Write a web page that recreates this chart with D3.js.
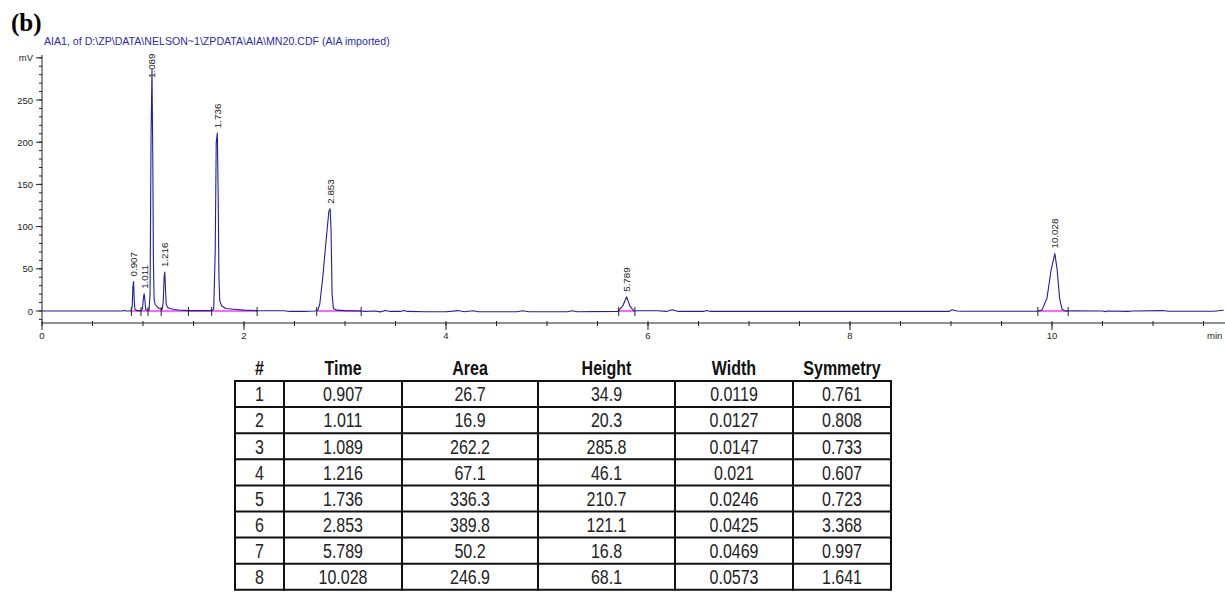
<!DOCTYPE html>
<html>
<head>
<meta charset="utf-8">
<script src="https://cdn.jsdelivr.net/npm/d3@7"></script>
<style>
  html, body { margin: 0; padding: 0; background: #fff; }
  svg { display: block; }
</style>
</head>
<body>
<svg id="chart" width="1225" height="600"></svg>
<script>
// ---------- data ----------
const titleText = "AIA1, of D:\\ZP\\DATA\\NELSON~1\\ZPDATA\\AIA\\MN20.CDF (AIA imported)";
const panelLabel = "(b)";

// chromatogram trace (min, mV)
const traceTime = [0, 0.5, 0.8, 0.815, 0.83, 0.88, 0.893, 0.9, 0.907, 0.913, 0.92, 0.94,
  0.98, 0.995, 1.004, 1.011, 1.018, 1.026, 1.045, 1.06, 1.07, 1.08, 1.089, 1.097, 1.103, 1.11,
  1.12, 1.14, 1.16, 1.18, 1.19, 1.2, 1.209, 1.216, 1.223, 1.23, 1.245, 1.27, 1.3, 1.35, 1.45,
  1.68, 1.70, 1.715, 1.725, 1.736, 1.745, 1.752, 1.76, 1.78, 1.82, 1.9, 2.0, 2.13,
  2.4, 2.45, 2.6, 2.70, 2.73, 2.75, 2.78, 2.81, 2.84, 2.853, 2.862, 2.872, 2.885, 2.92, 3.0, 3.16,
  3.2, 3.3, 3.35, 3.4, 3.45, 3.55, 3.58, 3.62, 3.8, 4.0, 4.12, 4.18, 4.27, 4.32, 4.7, 4.76, 4.82,
  5.2, 5.25, 5.3, 5.7, 5.75, 5.789, 5.82, 5.86, 5.9, 6.1, 6.18, 6.24, 6.3, 6.55, 6.58, 6.62,
  7.0, 8.0, 8.98, 9.01, 9.06, 9.1, 9.85, 9.9, 9.95, 9.99, 10.028, 10.05, 10.075, 10.1, 10.13,
  10.2, 10.5, 10.52, 10.55, 10.75, 10.8, 11.1, 11.15, 11.6, 11.7];
const traceMV = [0, 0, 0, 0.8, 0, 0, 5, 28, 34.9, 12, 2, 0.5,
  0.5, 3, 15, 20.3, 14, 2, 1, 1, 20, 210, 285.8, 180, 60, 14,
  8, 5, 3, 2, 2, 10, 40, 46.1, 25, 8, 4, 3, 2, 1.2, 0.5,
  0.5, 2, 70, 200, 210.7, 130, 40, 12, 6, 3, 2, 1, 0.5,
  0.3, -0.5, -0.5, 0, 1, 8, 40, 80, 118, 121.1, 95, 20, 3, 1, 0.5, 0,
  -0.5, 0, -1, 0.5, -0.5, -0.5, 0.5, -0.5, -0.8, -0.8, 0.5, -0.8, 0.3, -0.8, -0.8, 0.3, -0.8,
  -0.8, 0.3, -0.8, -0.5, 6, 16.8, 6, 0, 0.3, 0.3, -0.5, 1.5, -0.5, -0.5, 0.6, -0.5,
  -0.5, -0.5, -0.5, 1.5, 0, -0.3, -0.3, 1, 15, 48, 68.1, 50, 15, 2, 0,
  0.3, 0, -0.7, 0, -0.5, 0, 0.5, -0.3, -0.3, 0.8];

// integration baselines and event markers (min)
const baselineStart = [0.885, 2.72, 5.71, 9.86];
const baselineEnd   = [2.13, 3.16, 5.87, 10.16];
const eventMarks = [0.885, 0.98, 1.05, 1.18, 1.45, 1.68, 2.13, 2.72, 3.16, 5.71, 5.87, 9.86, 10.16];

// axis ticks
const xMajorTicks = [0, 2, 4, 6, 8, 10];
const yMajorTicks = [0, 50, 100, 150, 200, 250, 300];
const yTickLabels = ["0", "50", "100", "150", "200", "250", "mV"];

// peak table
const tableHeaders = ["#", "Time", "Area", "Height", "Width", "Symmetry"];
const peakNum = [1, 2, 3, 4, 5, 6, 7, 8];
const peakTime = [0.907, 1.011, 1.089, 1.216, 1.736, 2.853, 5.789, 10.028];
const peakArea = [26.7, 16.9, 262.2, 67.1, 336.3, 389.8, 50.2, 246.9];
const peakHeight = [34.9, 20.3, 285.8, 46.1, 210.7, 121.1, 16.8, 68.1];
const peakWidth = [0.0119, 0.0127, 0.0147, 0.021, 0.0246, 0.0425, 0.0469, 0.0573];
const peakSymmetry = [0.761, 0.808, 0.733, 0.607, 0.723, 3.368, 0.997, 1.641];

// ---------- drawing ----------
const svg = d3.select("#chart");
const AX = "Liberation Sans, Arial, Helvetica, sans-serif";

const x = d3.scaleLinear().domain([0, 10]).range([42, 1052]);
const y = d3.scaleLinear().domain([0, 250]).range([311, 100]);
const xMax = x.invert(1225);
const yBottom = y.invert(323);
const yTop = y.invert(55);

// panel label and title
svg.append("text").attr("x", 11).attr("y", 31)
  .attr("font-family", "Liberation Serif, Times New Roman, serif")
  .attr("font-weight", "bold").attr("font-size", 25).attr("fill", "#000")
  .text(panelLabel);
svg.append("text").attr("x", 44).attr("y", 45)
  .attr("font-family", AX).attr("font-size", 10.6).attr("fill", "#2a2ab4")
  .text(titleText);

// x axis
const gx = svg.append("g").attr("transform", "translate(0,323)");
gx.append("line").attr("x1", x(0)).attr("x2", 1225).attr("stroke", "#222").attr("stroke-width", 1);
const xMinor = d3.range(0, xMax, 0.5);
gx.selectAll(".xminor").data(xMinor).join("line")
  .attr("x1", d => x(d)).attr("x2", d => x(d)).attr("y1", -2).attr("y2", 3)
  .attr("stroke", "#222").attr("stroke-width", 1);
gx.selectAll(".xmajor").data(xMajorTicks).join("line")
  .attr("x1", d => x(d)).attr("x2", d => x(d)).attr("y1", 0).attr("y2", 7)
  .attr("stroke", "#222").attr("stroke-width", 1);
gx.selectAll(".xlab").data(xMajorTicks).join("text")
  .attr("x", d => x(d)).attr("y", 16).attr("text-anchor", "middle")
  .attr("font-family", AX).attr("font-size", 9.5).attr("fill", "#222")
  .text(d => d);
gx.append("text").attr("x", 1207).attr("y", 16)
  .attr("font-family", AX).attr("font-size", 9.5).attr("fill", "#222").text("min");

// y axis
const gy = svg.append("g").attr("transform", "translate(42,0)");
gy.append("line").attr("y1", y(yBottom)).attr("y2", y(yTop)).attr("stroke", "#222");
const yMinor = d3.range(-10, 301, 10);
gy.selectAll(".yminor").data(yMinor).join("line")
  .attr("y1", d => y(d)).attr("y2", d => y(d)).attr("x1", -3).attr("x2", 0)
  .attr("stroke", "#222");
gy.selectAll(".ymajor").data(yMajorTicks).join("line")
  .attr("y1", d => y(d)).attr("y2", d => y(d)).attr("x1", -6).attr("x2", 0)
  .attr("stroke", "#222");
gy.selectAll(".ylab").data(yMajorTicks).join("text")
  .attr("x", -9).attr("y", d => y(d) + 3.5).attr("text-anchor", "end")
  .attr("font-family", AX).attr("font-size", 9.5).attr("fill", "#222")
  .text((d, i) => yTickLabels[i]);

// baselines (magenta)
svg.selectAll(".base").data(baselineStart).join("line")
  .attr("x1", d => x(d)).attr("x2", (d, i) => x(baselineEnd[i]))
  .attr("y1", y(0)).attr("y2", y(0))
  .attr("stroke", "#ff33ff").attr("stroke-width", 1.5);

// trace
const pts = traceTime.map((t, i) => [t, traceMV[i]]);
svg.append("path").datum(pts)
  .attr("d", d3.line().x(d => x(d[0])).y(d => y(d[1])))
  .attr("fill", "none").attr("stroke", "#1f1fa8").attr("stroke-width", 1.1)
  .attr("stroke-linejoin", "round");

// event markers
svg.selectAll(".ev").data(eventMarks).join("line")
  .attr("x1", d => x(d)).attr("x2", d => x(d))
  .attr("y1", y(0) - 4).attr("y2", y(0) + 5)
  .attr("stroke", "#222").attr("stroke-width", 1);

// peak labels
const labG = svg.append("g");
peakTime.forEach((t, i) => {
  const label = t.toFixed(3);
  const len = label.length * 5.2;
  let start = y(peakHeight[i]) - 5;
  if (start - len < 52) start = 52 + len;
  labG.append("text")
    .attr("transform", `translate(${x(t) + 3.5},${start}) rotate(-90)`)
    .attr("font-family", AX).attr("font-size", 9.8).attr("fill", "#222")
    .text(label);
});

// ---------- table ----------
const colEdges = [235, 284, 402, 538, 675, 793, 891];
const tableTop = 381, rowH = 26.1;
const cols = [peakNum, peakTime, peakArea, peakHeight, peakWidth, peakSymmetry];
const tg = svg.append("g");
const narrow = 0.8;

tableHeaders.forEach((h, c) => {
  const cx = (colEdges[c] + colEdges[c + 1]) / 2;
  tg.append("text")
    .attr("transform", `translate(${cx},375) scale(${narrow},1)`)
    .attr("text-anchor", "middle")
    .attr("font-family", AX).attr("font-weight", "bold").attr("font-size", 20)
    .attr("fill", "#111").text(h);
});

const nRows = peakNum.length;
const tableBottom = tableTop + rowH * nRows;
d3.range(nRows + 1).forEach(r => {
  tg.append("line").attr("x1", colEdges[0]).attr("x2", colEdges[colEdges.length - 1])
    .attr("y1", tableTop + r * rowH).attr("y2", tableTop + r * rowH)
    .attr("stroke", "#111").attr("stroke-width", 2);
});
colEdges.forEach(cx => {
  tg.append("line").attr("x1", cx).attr("x2", cx)
    .attr("y1", tableTop - 1).attr("y2", tableBottom + 1)
    .attr("stroke", "#111").attr("stroke-width", 2);
});
cols.forEach((arr, c) => {
  const cx = (colEdges[c] + colEdges[c + 1]) / 2;
  arr.forEach((v, r) => {
    tg.append("text")
      .attr("transform", `translate(${cx},${tableTop + r * rowH + rowH / 2 + 7.3}) scale(${narrow},1)`)
      .attr("text-anchor", "middle")
      .attr("font-family", AX).attr("font-size", 20).attr("fill", "#222")
      .text(String(v));
  });
});
</script>
</body>
</html>
